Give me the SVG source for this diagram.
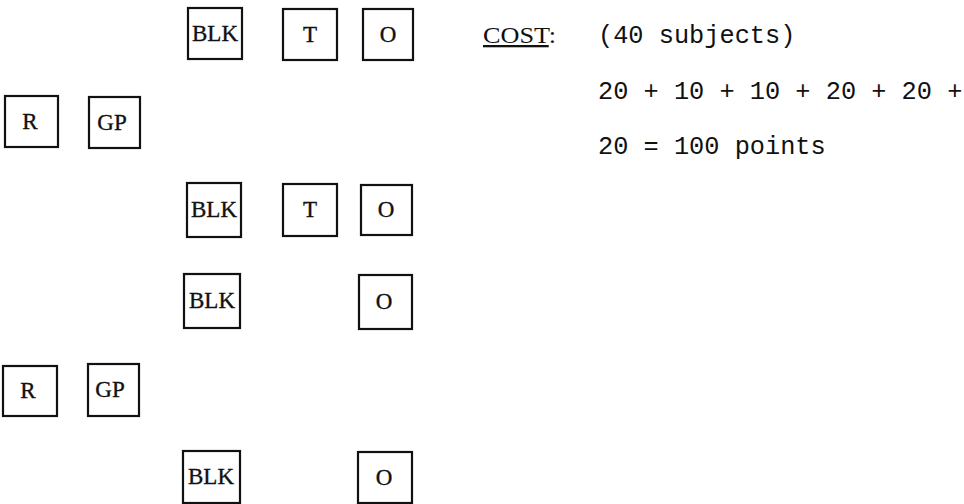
<svg xmlns="http://www.w3.org/2000/svg" width="964" height="504" viewBox="0 0 964 504">
<style>
.box{fill:#fff;stroke:#111;stroke-width:2.2}
.lbl{font-family:"Liberation Serif","DejaVu Serif",serif;font-size:23px;fill:#111;text-anchor:middle;stroke:#111;stroke-width:0.35}
.mono{font-family:"Liberation Mono","DejaVu Sans Mono",monospace;font-size:25.3px;fill:#111}
.cost{font-family:"Liberation Serif","DejaVu Serif",serif;font-size:23px;fill:#111}
</style>
<rect width="964" height="504" fill="#fff"/>
<g id="blk1"><rect class="box" x="188" y="8" width="54" height="51"/><text class="lbl" x="215" y="41" textLength="46" lengthAdjust="spacingAndGlyphs">BLK</text></g>
<g id="t1"><rect class="box" x="283" y="9" width="54" height="51"/><text class="lbl" x="310" y="42">T</text></g>
<g id="o1"><rect class="box" x="363" y="9" width="50" height="51"/><text class="lbl" x="388" y="42">O</text></g>
<g id="r1"><rect class="box" x="5" y="96" width="53" height="51"/><text class="lbl" x="30" y="129">R</text></g>
<g id="gp1"><rect class="box" x="89" y="97" width="51" height="51"/><text class="lbl" x="112" y="130">GP</text></g>
<g id="blk2"><rect class="box" x="187" y="183" width="54" height="54"/><text class="lbl" x="214" y="217" textLength="46" lengthAdjust="spacingAndGlyphs">BLK</text></g>
<g id="t2"><rect class="box" x="283" y="184" width="54" height="52"/><text class="lbl" x="310" y="217">T</text></g>
<g id="o2"><rect class="box" x="361" y="185" width="51" height="50"/><text class="lbl" x="386" y="217">O</text></g>
<g id="blk3"><rect class="box" x="184" y="274" width="56" height="54"/><text class="lbl" x="212" y="308" textLength="46" lengthAdjust="spacingAndGlyphs">BLK</text></g>
<g id="o3"><rect class="box" x="359" y="275" width="53" height="54"/><text class="lbl" x="384" y="309">O</text></g>
<g id="r2"><rect class="box" x="3" y="366" width="54" height="50"/><text class="lbl" x="28" y="398">R</text></g>
<g id="gp2"><rect class="box" x="88" y="364" width="51" height="52"/><text class="lbl" x="110" y="397">GP</text></g>
<g id="blk4"><rect class="box" x="183" y="451" width="57" height="52"/><text class="lbl" x="211" y="484" textLength="46" lengthAdjust="spacingAndGlyphs">BLK</text></g>
<g id="o4"><rect class="box" x="358" y="452" width="54" height="51"/><text class="lbl" x="384" y="485">O</text></g>
<g id="connectors"></g>
<g id="cost">
<text class="cost" x="483" y="43" textLength="73" lengthAdjust="spacingAndGlyphs"><tspan text-decoration="underline">COST</tspan>:</text>
<text class="mono" x="598" y="43">(40 subjects)</text>
<text class="mono" x="598" y="99">20 + 10 + 10 + 20 + 20 +</text>
<text class="mono" x="598" y="154">20 = 100 points</text>
</g>
</svg>
